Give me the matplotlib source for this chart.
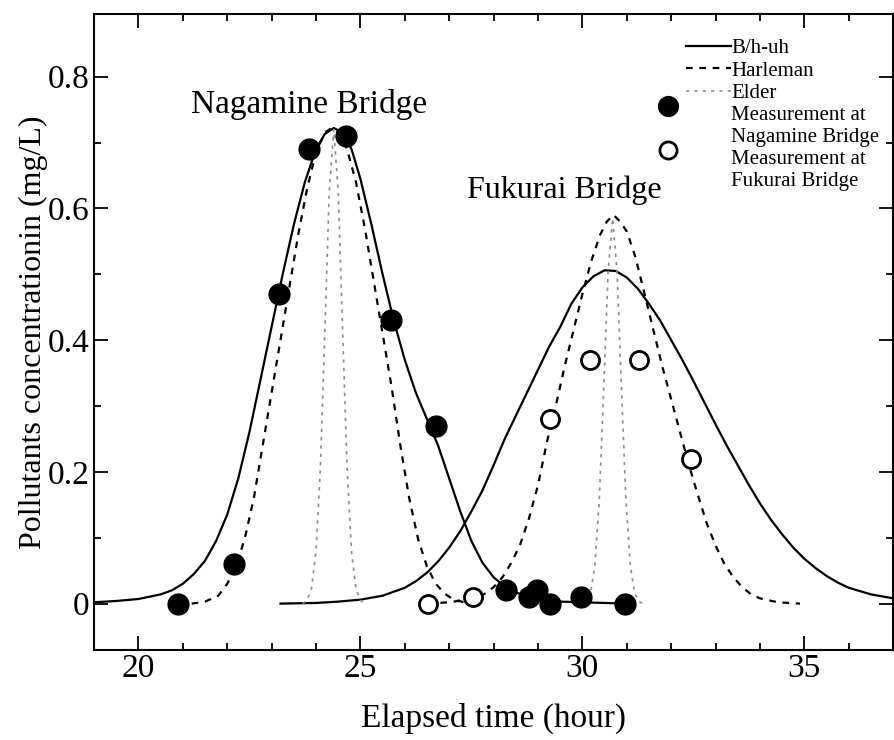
import numpy as np
import matplotlib
matplotlib.use('Agg')
import matplotlib.pyplot as plt
from matplotlib.ticker import MultipleLocator, FuncFormatter
from matplotlib.legend_handler import HandlerLine2DCompound

plt.rcParams['font.family'] = ['Liberation Serif', 'DejaVu Serif']

# measurements
naga_t = [20.90, 22.16, 23.17, 23.84, 24.67, 25.69, 26.70, 28.27, 28.79, 28.97, 29.28, 29.96, 30.97]
naga_c = [0.00, 0.06, 0.47, 0.69, 0.71, 0.43, 0.27, 0.02, 0.01, 0.02, 0.00, 0.01, 0.00]
fuku_t = [26.52, 27.53, 29.28, 30.18, 31.28, 32.45]
fuku_c = [0.00, 0.01, 0.28, 0.37, 0.37, 0.22]

# B/h-uh model
bhuh_n_t = [19.0, 19.5, 20.0, 20.5, 20.75, 21.0, 21.25, 21.5, 21.75, 22.0, 22.25, 22.5, 22.75,
            23.0, 23.25, 23.5, 23.75, 24.0, 24.2, 24.4, 24.6, 24.8, 25.0, 25.25, 25.5, 25.75,
            26.0, 26.25, 26.5, 26.75, 27.0, 27.25, 27.5, 27.75, 28.0, 28.25, 28.5, 28.75,
            29.0, 29.5, 30.0, 31.0]
bhuh_n_c = [0.002, 0.004, 0.007, 0.014, 0.02, 0.03, 0.045, 0.065, 0.095, 0.135, 0.19, 0.26, 0.34,
            0.42, 0.50, 0.575, 0.64, 0.69, 0.713, 0.722, 0.715, 0.69, 0.645, 0.575, 0.50, 0.43,
            0.37, 0.32, 0.28, 0.24, 0.19, 0.14, 0.095, 0.062, 0.04, 0.026, 0.017, 0.011,
            0.007, 0.003, 0.002, 0.0]
bhuh_f_t = [23.2, 24.0, 24.5, 25.0, 25.5, 26.0, 26.25, 26.5, 26.75, 27.0, 27.25, 27.5, 27.75,
            28.0, 28.25, 28.5, 28.75, 29.0, 29.25, 29.5, 29.75, 30.0, 30.25, 30.5, 30.75,
            31.0, 31.25, 31.5, 31.75, 32.0, 32.25, 32.5, 32.75, 33.0, 33.25, 33.5, 33.75,
            34.0, 34.25, 34.5, 34.75, 35.0, 35.25, 35.5, 35.75, 36.0, 36.5, 37.0]
bhuh_f_c = [0.0, 0.001, 0.003, 0.006, 0.012, 0.024, 0.034, 0.047, 0.064, 0.085, 0.11, 0.14, 0.172,
            0.21, 0.25, 0.285, 0.32, 0.355, 0.39, 0.42, 0.455, 0.48, 0.497, 0.506, 0.505,
            0.495, 0.478, 0.455, 0.43, 0.40, 0.37, 0.338, 0.305, 0.272, 0.24, 0.21, 0.18,
            0.152, 0.127, 0.105, 0.085, 0.068, 0.054, 0.042, 0.032, 0.024, 0.014, 0.008]

# Harleman model
harl_n_t = [21.2, 21.5, 21.8, 22.0, 22.2, 22.4, 22.6, 22.8, 23.0, 23.2, 23.4, 23.6, 23.8, 24.0,
            24.2, 24.35, 24.5, 24.7, 24.9, 25.1, 25.3, 25.5, 25.7, 25.9, 26.1, 26.3, 26.5,
            26.7, 26.9, 27.1, 27.4, 27.6]
harl_n_c = [0.0, 0.003, 0.012, 0.03, 0.056, 0.10, 0.16, 0.24, 0.32, 0.40, 0.48, 0.56, 0.63, 0.685,
            0.715, 0.722, 0.715, 0.69, 0.64, 0.57, 0.49, 0.41, 0.33, 0.24, 0.16, 0.098, 0.056,
            0.03, 0.015, 0.006, 0.001, 0.0]
harl_f_t = [26.5, 27.0, 27.5, 27.8, 28.0, 28.2, 28.4, 28.6, 28.8, 29.0, 29.2, 29.4, 29.6, 29.8,
            30.0, 30.2, 30.4, 30.55, 30.7, 30.85, 31.0, 31.2, 31.4, 31.6, 31.8, 32.0, 32.2,
            32.4, 32.6, 32.8, 33.0, 33.2, 33.4, 33.6, 33.8, 34.0, 34.4, 34.9]
harl_f_c = [0.0, 0.002, 0.007, 0.015, 0.025, 0.04, 0.062, 0.09, 0.13, 0.18, 0.245, 0.30, 0.36, 0.415,
            0.47, 0.52, 0.56, 0.58, 0.59, 0.58, 0.565, 0.525, 0.47, 0.415, 0.36, 0.31, 0.26,
            0.21, 0.165, 0.122, 0.088, 0.06, 0.04, 0.025, 0.014, 0.008, 0.002, 0.0]

# Elder model
elder_n_t = [23.7, 23.8, 23.9, 24.0, 24.1, 24.2, 24.3, 24.4, 24.5, 24.6, 24.7, 24.8, 24.9, 25.0, 25.1]
elder_n_c = [0.0, 0.005, 0.023, 0.079, 0.207, 0.414, 0.627, 0.72, 0.627, 0.414, 0.207, 0.079, 0.023, 0.005, 0.0]
elder_f_t = [30.0, 30.08, 30.18, 30.28, 30.38, 30.48, 30.58, 30.68, 30.78, 30.88, 30.98, 31.08, 31.18, 31.28, 31.36]
elder_f_c = [0.0, 0.003, 0.015, 0.057, 0.157, 0.326, 0.505, 0.585, 0.505, 0.326, 0.157, 0.057, 0.015, 0.003, 0.0]


class LeftMarker(HandlerLine2DCompound):
    # symbol sits left of the line handles and level with the first text line
    def get_xdata(self, legend, xdescent, ydescent, width, height, fontsize):
        xdata, xm = super().get_xdata(legend, xdescent, ydescent, width, height, fontsize)
        return xdata, [-xdescent - 0.38 * width]

    def create_artists(self, legend, orig_handle, xdescent, ydescent, width, height,
                       fontsize, trans):
        arts = super().create_artists(legend, orig_handle, xdescent, ydescent, width,
                                      height, fontsize, trans)
        mk = arts[1]
        mk.set_ydata(np.asarray(mk.get_ydata()) + 0.95 * fontsize)
        return arts


fig = plt.figure(figsize=(8.95, 7.4), dpi=100)
ax = fig.add_axes([0.105, 0.122, 0.893, 0.859])

ax.plot(bhuh_n_t, bhuh_n_c, color='black', lw=1.6, label='B/h-uh')
ax.plot(bhuh_f_t, bhuh_f_c, color='black', lw=1.6)
ax.plot(harl_n_t, harl_n_c, color='black', lw=1.6, ls=(0, (3, 3)), label='Harleman')
ax.plot(harl_f_t, harl_f_c, color='black', lw=1.6, ls=(0, (3, 3)))
ax.plot(elder_n_t, elder_n_c, color='#8c8c8c', lw=1.2, ls=(0, (2, 3)), label='Elder')
ax.plot(elder_f_t, elder_f_c, color='#8c8c8c', lw=1.2, ls=(0, (2, 3)))
p_naga, = ax.plot(naga_t, naga_c, 'o', color='black', ms=15, ls='none',
                  label='Measurement at\nNagamine Bridge')
p_fuku, = ax.plot(fuku_t, fuku_c, 'o', mfc='white', mec='black', mew=2, ms=13, ls='none',
                  label='Measurement at\nFukurai Bridge')

ax.text(23.85, 0.757, 'Nagamine Bridge', fontsize=24, ha='center', va='center')
ax.text(29.6, 0.628, 'Fukurai Bridge', fontsize=23, ha='center', va='center')

ax.set_xlim(19, 37)
ax.set_ylim(-0.07, 0.895)
ax.xaxis.set_major_locator(MultipleLocator(5))
ax.xaxis.set_minor_locator(MultipleLocator(1))
ax.yaxis.set_major_locator(MultipleLocator(0.2))
ax.yaxis.set_minor_locator(MultipleLocator(0.1))
ax.yaxis.set_major_formatter(FuncFormatter(lambda v, p: f'{v:g}'))
ax.tick_params(which='both', direction='in', top=True, right=True, labelsize=24, width=1.3)
ax.tick_params(which='major', length=10)
ax.tick_params(which='minor', length=5)
ax.tick_params(axis='x', which='major', pad=3)
ax.tick_params(axis='y', which='major', pad=3)
for s in ax.spines.values():
    s.set_linewidth(1.5)

ax.set_xlabel('Elapsed time (hour)', fontsize=24, labelpad=13)
ax.set_ylabel('Pollutants concentrationin (mg/L)', fontsize=23, labelpad=0)

leg = ax.legend(loc='upper left', bbox_to_anchor=(0.735, 0.968), frameon=False,
                fontsize=15, handlelength=2.2, handletextpad=0.0, labelspacing=0.14,
                borderaxespad=0, borderpad=0.2, markerscale=0.95,
                handler_map={p_naga: LeftMarker(), p_fuku: LeftMarker()})

fig.savefig('out.png', dpi=100)
